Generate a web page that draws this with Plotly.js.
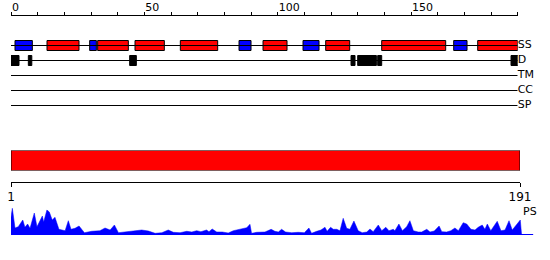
<!DOCTYPE html>
<html>
<head>
<meta charset="utf-8">
<script src="https://cdn.plot.ly/plotly-3.0.1.min.js"></script>
<style>html,body{margin:0;padding:0;background:#fff;}#chart{width:550px;height:260px;}</style>
</head>
<body>
<div id="chart"></div>
<script>
// ---- data ----
var trackNames = ["SS", "D", "TM", "CC", "SP"];
var topTickLabels = [0, 50, 100, 150];
var helixStart = [1.5, 29.5, 85.5, 109.5, 166];
var helixEnd   = [8, 32, 90, 115.5, 171];
var strandStart = [13.5, 32.5, 46.5, 63.5, 94.5, 118, 139, 175];
var strandEnd   = [25.5, 44, 57.5, 77.5, 103.5, 127, 163, 190];
var disStart = [0, 6.5, 44.5, 127.5, 130, 137.5, 187.5];
var disEnd   = [3, 7.8, 47, 129, 137, 139, 190.5];
var seqStart = 1;
var seqEnd = 191;
var psX = [1.0,1.5,2.5,3.7,5.4,6.2,7.2,8.1,9.7,10.7,12.7,13.2,14.4,15.3,16.4,17.4,18.9,21.2,22.4,23.4,24.9,26.4,28.4,31.1,34.2,36.1,38.0,39.6,41.1,46.1,48.5,49.8,52.3,54.8,57.3,59.7,61.6,64.1,66.6,68.5,70.3,71.9,74.0,74.9,76.1,77.8,79.9,82.1,84.0,87.1,89.0,90.2,90.8,92.7,95.8,98.1,99.5,100.8,102.0,103.5,105.8,108.2,110.5,112.2,113.2,115.1,116.7,118.2,119.0,120.3,121.3,122.6,123.8,125.0,126.3,127.5,129.0,130.6,132.1,133.8,135.0,136.2,138.1,139.4,140.9,142.1,143.7,144.3,145.8,147.1,148.7,149.9,151.2,153.0,154.3,156.2,157.4,159.0,160.8,161.8,163.6,165.2,166.7,168.0,169.8,171.1,172.7,174.2,175.4,176.9,177.9,178.8,180.1,182.5,183.9,185.4,186.9,188.1,191.1,191.6];
var psY = [18,26.7,7,8.3,15,7.7,11,6.7,22,8.3,19,13,25,23,15,17.7,5.7,4.3,14.3,5.7,6.7,9,2.3,3.7,4.3,7,5,10,2.3,3.7,4.3,5,4,1.7,2.3,5,2.7,2.3,3.7,3,4.3,3.3,5,3.3,6,3,3,2,4.3,5.7,7.3,10.7,1.7,2.7,3,5.7,3.7,3,5.7,3,2.3,2.7,2.3,7,1.7,3.7,5,7.7,3.7,7.7,5.7,5.7,4.3,16.7,6.7,5.7,14,4.3,2.3,3,6,3.3,10,4.3,7.7,4.3,5.7,4.3,11,4.3,8.3,14.3,4.3,3,3,5.7,3,4,9,3.3,3,4.3,7,4.3,12.3,11,5.7,5,7.7,10,5.7,11,4.3,13.7,4.3,5,14.3,5,15,0];
var psBaseEnd = 196;

// ---- helpers ----
var W = 550, H = 260;
function fx(px){ return px / W; }
function fy(py){ return 1 - py / H; }
function diff(a, b){ return a.map(function(v, i){ return v - b[i]; }); }
function rep(v, n){ var r = []; for (var i = 0; i < n; i++) r.push(v); return r; }

var FONT = {family: "DejaVu Sans", size: 11, color: "#000"};
var traces = [];

// track lines
trackNames.forEach(function(name, k){
  traces.push({type: "scatter", mode: "lines", x: [0, 190], y: [k, k],
    xaxis: "x", yaxis: "y", line: {color: "#000", width: 1}, hoverinfo: "skip"});
});
// track labels
traces.push({type: "scatter", mode: "text", x: rep(190, trackNames.length),
  y: trackNames.map(function(n, k){ return k; }), text: trackNames,
  textposition: "middle right", textfont: FONT, cliponaxis: false,
  xaxis: "x", yaxis: "y", hoverinfo: "skip"});

function boxTrace(starts, ends, trackIdx, color){
  return {type: "bar", orientation: "h", base: starts, x: diff(ends, starts),
    y: rep(trackIdx, starts.length), width: 10 / 15, xaxis: "x", yaxis: "y",
    marker: {color: color, line: {color: "#000", width: 1}}, hoverinfo: "skip"};
}
traces.push(boxTrace(helixStart, helixEnd, 0, "#0000FF"));
traces.push(boxTrace(strandStart, strandEnd, 0, "#FF0000"));
traces.push(boxTrace(disStart, disEnd, 1, "#000000"));

// sequence bar
traces.push({type: "bar", orientation: "h", base: [seqStart], x: [seqEnd - seqStart],
  y: [0.5], width: 1, xaxis: "x2", yaxis: "y2",
  marker: {color: "#FF0000", line: {color: "#000", width: 1}}, hoverinfo: "skip"});

// PS area
traces.push({type: "scatter", mode: "lines", x: [seqStart, psBaseEnd], y: [0, 0],
  xaxis: "x3", yaxis: "y3", line: {color: "#0000FF", width: 2}, hoverinfo: "skip"});
traces.push({type: "scatter", mode: "lines", x: psX, y: psY, fill: "tozeroy",
  fillcolor: "#0000FF", line: {color: "#0000FF", width: 0.5}, xaxis: "x3", yaxis: "y3", hoverinfo: "skip"});

var layout = {
  width: W, height: H, margin: {l: 0, r: 0, t: 0, b: 0},
  paper_bgcolor: "#fff", plot_bgcolor: "rgba(0,0,0,0)",
  showlegend: false, barmode: "overlay", font: FONT,
  xaxis: {domain: [fx(11), fx(517.7)], range: [0, 190], anchor: "free", position: fy(15),
    side: "top", showgrid: false, zeroline: false, showline: true, linecolor: "#000", linewidth: 1,
    ticks: "outside", ticklen: 3, tickcolor: "#000", tickvals: topTickLabels,
    ticktext: topTickLabels.map(String), ticklabelposition: "outside right", tickfont: FONT,
    minor: {dtick: 10, tick0: 0, ticks: "outside", ticklen: 3, tickcolor: "#000", showgrid: false}},
  yaxis: {domain: [fy(120.5), fy(30.5)], range: [5, -1], visible: false},
  xaxis2: {domain: [fx(11), fx(520)], range: [seqStart, seqEnd], anchor: "free", position: fy(182),
    showgrid: false, zeroline: false, showline: true, linecolor: "#000", linewidth: 1,
    ticks: "outside", ticklen: 4, tickcolor: "#000", tickvals: [seqStart, seqEnd],
    ticktext: [String(seqStart), String(seqEnd)], tickfont: {family: "DejaVu Sans", size: 12, color: "#000"}},
  yaxis2: {domain: [fy(170.5), fy(150.5)], range: [0, 1], visible: false},
  xaxis3: {domain: [fx(11), fx(533.4)], range: [seqStart, psBaseEnd], anchor: "y3", visible: false},
  yaxis3: {domain: [fy(235), fy(207)], range: [0, 28], visible: false},
  annotations: [{xref: "paper", yref: "paper", x: fx(521), y: fy(211), xanchor: "left", yanchor: "middle",
    text: "PS", showarrow: false, font: FONT}]
};

Plotly.newPlot("chart", traces, layout, {staticPlot: true, displayModeBar: false});
</script>
</body>
</html>
